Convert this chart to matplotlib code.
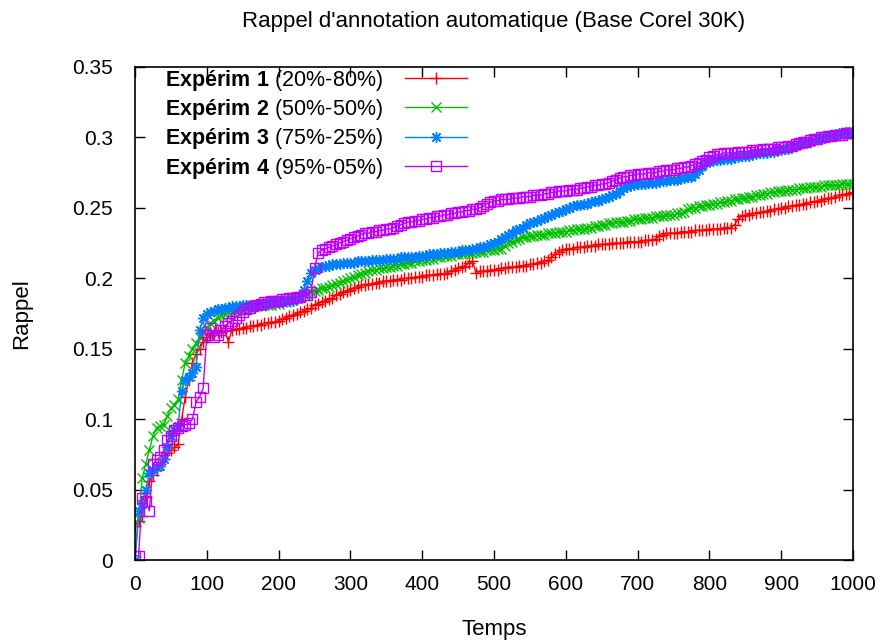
import matplotlib
matplotlib.use("Agg")
import matplotlib.pyplot as plt
from matplotlib.ticker import MultipleLocator

plt.rcParams["font.family"] = ["Liberation Sans", "DejaVu Sans"]
plt.rcParams["mathtext.fontset"] = "custom"
plt.rcParams["mathtext.rm"] = "Liberation Sans"
plt.rcParams["mathtext.bf"] = "Liberation Sans:bold"

# Time axis: one sample every 5 units
temps = list(range(0, 1001, 5))

# Expérim 1 (20%-80%)
rappel_1 = [
    0.024, 0.028, 0.031, 0.045, 0.056, 0.060, 0.064, 0.068, 0.072, 0.076,
    0.078, 0.080, 0.082, 0.100, 0.116, 0.128, 0.140, 0.146, 0.150, 0.155,
    0.158, 0.160, 0.161, 0.162, 0.162, 0.163, 0.155, 0.163, 0.164, 0.164,
    0.165, 0.165, 0.166, 0.166, 0.167, 0.167, 0.168, 0.168, 0.169, 0.169,
    0.170, 0.171, 0.172, 0.173, 0.174, 0.175, 0.176, 0.177, 0.178, 0.179,
    0.181, 0.182, 0.183, 0.184, 0.185, 0.186, 0.188, 0.189, 0.190, 0.191,
    0.192, 0.193, 0.194, 0.195, 0.195, 0.196, 0.196, 0.197, 0.197, 0.198,
    0.198, 0.198, 0.199, 0.199, 0.199, 0.200, 0.200, 0.200, 0.201, 0.201,
    0.201, 0.202, 0.202, 0.202, 0.203, 0.203, 0.203, 0.204, 0.205, 0.206,
    0.207, 0.208, 0.209, 0.211, 0.212, 0.204, 0.205, 0.205, 0.205, 0.206,
    0.206, 0.206, 0.207, 0.207, 0.208, 0.208, 0.208, 0.209, 0.209, 0.209,
    0.210, 0.210, 0.211, 0.211, 0.212, 0.213, 0.215, 0.217, 0.219, 0.220,
    0.221, 0.221, 0.221, 0.222, 0.222, 0.222, 0.223, 0.223, 0.223, 0.224,
    0.224, 0.224, 0.224, 0.225, 0.225, 0.225, 0.225, 0.226, 0.226, 0.226,
    0.226, 0.226, 0.227, 0.227, 0.227, 0.228, 0.230, 0.231, 0.232, 0.232,
    0.232, 0.232, 0.233, 0.233, 0.233, 0.233, 0.234, 0.234, 0.234, 0.234,
    0.235, 0.235, 0.235, 0.235, 0.236, 0.236, 0.236, 0.238, 0.242, 0.244,
    0.245, 0.245, 0.246, 0.246, 0.247, 0.247, 0.248, 0.248, 0.249, 0.249,
    0.250, 0.250, 0.251, 0.251, 0.252, 0.252, 0.253, 0.253, 0.254, 0.254,
    0.255, 0.255, 0.256, 0.257, 0.257, 0.258, 0.259, 0.259, 0.260, 0.260,
    0.261,
]

# Expérim 2 (50%-50%)
rappel_2 = [
    0.000, 0.030, 0.058, 0.068, 0.078, 0.088, 0.094, 0.095, 0.096, 0.102,
    0.108, 0.110, 0.114, 0.128, 0.140, 0.145, 0.150, 0.154, 0.158, 0.162,
    0.165, 0.168, 0.170, 0.172, 0.174, 0.175, 0.176, 0.177, 0.177, 0.178,
    0.178, 0.179, 0.179, 0.180, 0.180, 0.180, 0.181, 0.181, 0.181, 0.182,
    0.182, 0.183, 0.183, 0.184, 0.185, 0.186, 0.187, 0.188, 0.189, 0.190,
    0.191, 0.192, 0.193, 0.193, 0.194, 0.195, 0.196, 0.197, 0.198, 0.199,
    0.200, 0.201, 0.202, 0.203, 0.204, 0.205, 0.206, 0.206, 0.207, 0.207,
    0.208, 0.208, 0.209, 0.209, 0.210, 0.210, 0.211, 0.211, 0.212, 0.212,
    0.213, 0.213, 0.214, 0.214, 0.215, 0.215, 0.216, 0.216, 0.216, 0.217,
    0.217, 0.217, 0.218, 0.218, 0.218, 0.219, 0.219, 0.219, 0.220, 0.220,
    0.220, 0.221, 0.221, 0.223, 0.225, 0.226, 0.227, 0.228, 0.229, 0.229,
    0.230, 0.230, 0.231, 0.231, 0.231, 0.232, 0.232, 0.232, 0.233, 0.233,
    0.233, 0.234, 0.234, 0.235, 0.235, 0.235, 0.236, 0.236, 0.237, 0.237,
    0.238, 0.238, 0.239, 0.239, 0.240, 0.240, 0.240, 0.241, 0.241, 0.242,
    0.242, 0.242, 0.243, 0.243, 0.243, 0.244, 0.244, 0.244, 0.245, 0.245,
    0.245, 0.246, 0.246, 0.247, 0.249, 0.250, 0.250, 0.251, 0.251, 0.252,
    0.252, 0.253, 0.253, 0.254, 0.254, 0.255, 0.255, 0.256, 0.256, 0.257,
    0.257, 0.258, 0.258, 0.259, 0.259, 0.260, 0.260, 0.261, 0.261, 0.262,
    0.262, 0.262, 0.263, 0.263, 0.263, 0.264, 0.264, 0.264, 0.265, 0.265,
    0.265, 0.265, 0.266, 0.266, 0.266, 0.266, 0.266, 0.267, 0.267, 0.267,
    0.267,
]

# Expérim 3 (75%-25%)
rappel_3 = [
    0.000, 0.035, 0.040, 0.050, 0.062, 0.064, 0.066, 0.067, 0.072, 0.080,
    0.088, 0.092, 0.095, 0.120, 0.128, 0.130, 0.133, 0.137, 0.163, 0.172,
    0.175, 0.176, 0.177, 0.178, 0.178, 0.179, 0.179, 0.180, 0.180, 0.180,
    0.181, 0.181, 0.181, 0.181, 0.182, 0.182, 0.182, 0.182, 0.183, 0.183,
    0.183, 0.183, 0.184, 0.184, 0.184, 0.185, 0.187, 0.192, 0.198, 0.204,
    0.206, 0.207, 0.208, 0.209, 0.209, 0.210, 0.210, 0.210, 0.211, 0.211,
    0.211, 0.211, 0.212, 0.212, 0.212, 0.212, 0.213, 0.213, 0.213, 0.213,
    0.214, 0.214, 0.214, 0.214, 0.215, 0.215, 0.215, 0.215, 0.215, 0.216,
    0.216, 0.216, 0.217, 0.217, 0.217, 0.218, 0.218, 0.218, 0.219, 0.219,
    0.219, 0.220, 0.220, 0.220, 0.221, 0.221, 0.222, 0.222, 0.223, 0.224,
    0.225, 0.226, 0.228, 0.229, 0.231, 0.232, 0.234, 0.235, 0.236, 0.238,
    0.239, 0.240, 0.241, 0.242, 0.243, 0.244, 0.245, 0.246, 0.247, 0.248,
    0.249, 0.250, 0.251, 0.252, 0.252, 0.253, 0.253, 0.254, 0.255, 0.255,
    0.256, 0.257, 0.258, 0.259, 0.260, 0.262, 0.264, 0.265, 0.266, 0.266,
    0.267, 0.267, 0.267, 0.268, 0.268, 0.268, 0.269, 0.269, 0.269, 0.270,
    0.270, 0.270, 0.271, 0.271, 0.272, 0.272, 0.274, 0.277, 0.280, 0.282,
    0.283, 0.283, 0.284, 0.284, 0.285, 0.285, 0.285, 0.286, 0.286, 0.287,
    0.287, 0.287, 0.288, 0.288, 0.289, 0.289, 0.289, 0.290, 0.290, 0.291,
    0.291, 0.292, 0.292, 0.293, 0.294, 0.295, 0.296, 0.296, 0.297, 0.298,
    0.299, 0.299, 0.300, 0.301, 0.302, 0.302, 0.303, 0.303, 0.304, 0.304,
    0.304,
]

# Expérim 4 (95%-05%)
rappel_4 = [
    0.003, 0.003, 0.044, 0.042, 0.035, 0.068, 0.071, 0.073, 0.078, 0.085,
    0.088, 0.092, 0.094, 0.095, 0.096, 0.097, 0.100, 0.112, 0.116, 0.122,
    0.160, 0.165, 0.158, 0.160, 0.163, 0.166, 0.168, 0.170, 0.172, 0.174,
    0.176, 0.178, 0.179, 0.180, 0.181, 0.182, 0.183, 0.183, 0.184, 0.184,
    0.184, 0.185, 0.185, 0.186, 0.186, 0.187, 0.187, 0.188, 0.188, 0.190,
    0.207, 0.218, 0.220, 0.221, 0.222, 0.223, 0.224, 0.225, 0.226, 0.227,
    0.228, 0.229, 0.230, 0.231, 0.232, 0.232, 0.233, 0.233, 0.234, 0.234,
    0.235, 0.235, 0.236, 0.237, 0.238, 0.239, 0.240, 0.240, 0.241, 0.241,
    0.242, 0.242, 0.243, 0.243, 0.244, 0.244, 0.245, 0.245, 0.246, 0.246,
    0.247, 0.247, 0.248, 0.248, 0.249, 0.249, 0.250, 0.251, 0.253, 0.254,
    0.255, 0.255, 0.256, 0.256, 0.256, 0.257, 0.257, 0.257, 0.258, 0.258,
    0.258, 0.259, 0.259, 0.259, 0.260, 0.260, 0.261, 0.261, 0.262, 0.262,
    0.262, 0.263, 0.263, 0.263, 0.264, 0.264, 0.265, 0.265, 0.266, 0.266,
    0.267, 0.267, 0.268, 0.269, 0.270, 0.271, 0.272, 0.272, 0.273, 0.273,
    0.274, 0.274, 0.274, 0.275, 0.275, 0.275, 0.276, 0.276, 0.277, 0.277,
    0.277, 0.278, 0.278, 0.279, 0.279, 0.280, 0.281, 0.282, 0.283, 0.284,
    0.286, 0.287, 0.288, 0.288, 0.289, 0.289, 0.289, 0.289, 0.290, 0.290,
    0.290, 0.290, 0.291, 0.291, 0.291, 0.292, 0.292, 0.292, 0.292, 0.293,
    0.293, 0.293, 0.294, 0.294, 0.295, 0.296, 0.297, 0.297, 0.298, 0.299,
    0.299, 0.300, 0.300, 0.301, 0.301, 0.302, 0.302, 0.302, 0.303, 0.303,
    0.303,
]

experiences = ["Expérim 1", "Expérim 2", "Expérim 3", "Expérim 4"]
repartitions = ["(20%-80%)", "(50%-50%)", "(75%-25%)", "(95%-05%)"]

series = [rappel_1, rappel_2, rappel_3, rappel_4]
colors = ["#ff0000", "#00c000", "#0080ff", "#c000ff"]
markers = ["+", "x", (8, 2, 0), "s"]
sizes = [9, 7, 8, 7]

fig = plt.figure(figsize=(8.8, 6.4), dpi=100)
ax = fig.add_axes([135 / 880, 1 - 560 / 640, 718 / 880, 493 / 640])

for vals, col, mk, ms, name, rep in zip(series, colors, markers, sizes,
                                        experiences, repartitions):
    label = r"$\mathbf{" + name.replace(" ", r"\ ") + "}$ " + rep
    ax.plot(temps, vals, color=col, lw=1.0, marker=mk, markersize=ms,
            markeredgewidth=1.0, markerfacecolor="none", markeredgecolor=col,
            label=label)

ax.set_xlim(0, 1000)
ax.set_ylim(0, 0.35)
ax.xaxis.set_major_locator(MultipleLocator(100))
ax.yaxis.set_major_locator(MultipleLocator(0.05))
ax.yaxis.set_major_formatter(
    plt.FuncFormatter(lambda v, p: ("%.2f" % v).rstrip("0").rstrip(".") if v else "0"))

ax.tick_params(direction="in", length=7, width=1, top=True, right=True,
               labelsize=15, colors="black")
ax.tick_params(axis="y", pad=16)
ax.tick_params(axis="x", pad=11)
for sp in ax.spines.values():
    sp.set_linewidth(1.2)

ax.set_title("Rappel d'annotation automatique (Base Corel 30K)",
             fontsize=16, y=1 + (67 - 22) / 493, va="center", pad=0)
ax.set_xlabel("Temps", fontsize=16)
ax.set_ylabel("Rappel", fontsize=16)
ax.xaxis.set_label_coords(0.5, -(630 - 560) / 493)
ax.yaxis.set_label_coords((22 - 135) / 718, 0.5)
ax.xaxis.label.set_va("center")
ax.yaxis.label.set_va("center")

ax.legend(loc="upper left", frameon=False, markerfirst=False, fontsize=15.5,
          handlelength=2.9, labelspacing=0.2, borderaxespad=0.0,
          bbox_to_anchor=(0.030, 1.016), handletextpad=1.0)

fig.savefig("out.png", dpi=100)
